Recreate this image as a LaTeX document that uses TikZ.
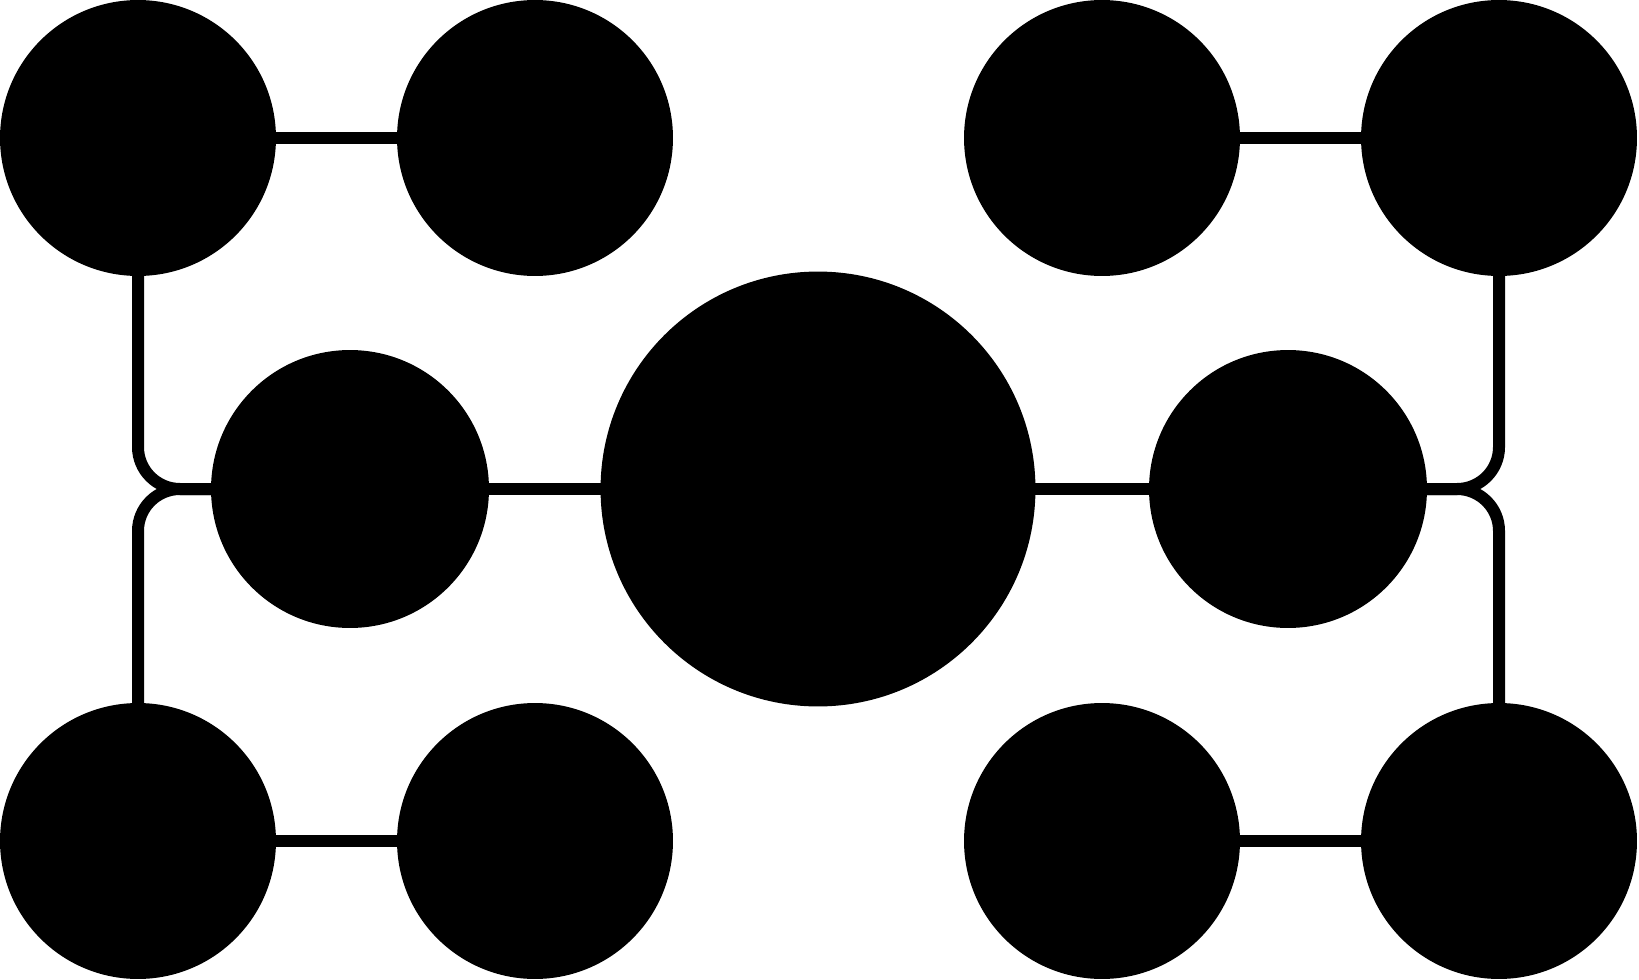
\documentclass[tikz,border=0pt]{standalone}
\begin{document}
\begin{tikzpicture}[x=0.02cm,y=-0.02cm,
  dot/.style={circle,fill=black,inner sep=0pt,outer sep=0pt,minimum size=5.52cm},
  mid/.style={circle,fill=black,inner sep=0pt,outer sep=0pt,minimum size=5.56cm},
  hub/.style={circle,fill=black,inner sep=0pt,outer sep=0pt,minimum size=8.7cm},
  link/.style={line width=0.24cm,black},
  curvelink/.style={link,rounded corners=0.84cm}]
\useasboundingbox (0,0) rectangle (1639,980);
\node[dot] (tl1) at (138,138) {};
\node[dot] (tl2) at (535,138) {};
\node[dot] (tr1) at (1102,138) {};
\node[dot] (tr2) at (1499,138) {};
\node[dot] (bl1) at (138,841) {};
\node[dot] (bl2) at (535,841) {};
\node[dot] (br1) at (1102,841) {};
\node[dot] (br2) at (1499,841) {};
\node[mid] (ml) at (350,489) {};
\node[mid] (mr) at (1288,489) {};
\node[hub] (c) at (818,489) {};
\draw[link] (tl1) -- (tl2);
\draw[link] (tr1) -- (tr2);
\draw[link] (bl1) -- (bl2);
\draw[link] (br1) -- (br2);
\draw[link] (ml) -- (c);
\draw[link] (c) -- (mr);
\draw[curvelink] (tl1) |- (ml);
\draw[curvelink] (bl1) |- (ml);
\draw[curvelink] (tr2) |- (mr);
\draw[curvelink] (br2) |- (mr);
\end{tikzpicture}
\end{document}
